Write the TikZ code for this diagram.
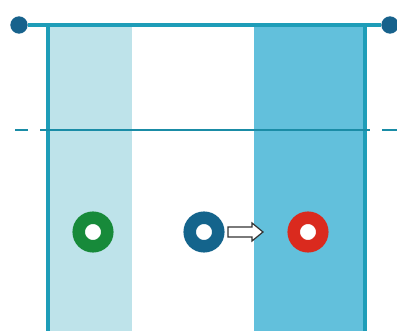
\documentclass[tikz,border=0pt]{standalone}
\definecolor{lineC}{HTML}{1E9DB8}
\definecolor{dashC}{HTML}{1A8CA6}
\definecolor{lightF}{HTML}{BEE3EA}
\definecolor{darkF}{HTML}{62C0DC}
\definecolor{dotC}{HTML}{17628C}
\definecolor{greenC}{HTML}{178A3A}
\definecolor{blueC}{HTML}{14648C}
\definecolor{redC}{HTML}{DA2A1E}
\begin{document}
\begin{tikzpicture}[x=0.75pt,y=-0.75pt,
  ring/.style={circle, draw=#1, fill=white, line width=9.4pt, minimum size=21.4pt, inner sep=0pt},
  enddot/.style={circle, fill=dotC, minimum size=13pt, inner sep=0pt},
  rail/.style={lineC, line width=2.4pt},
  level/.style={dashC, line width=1.6pt},
  hollowarrow/.style={draw=black!80, fill=white, line width=0.9pt, line join=miter}]
\useasboundingbox (0,0) rectangle (397,331);
\fill[white] (0,0) rectangle (397,331);
% columns
\fill[lightF] (50,27) rectangle (132,331);
\fill[darkF] (254,27) rectangle (364,331);
% vertical rails
\draw[rail] (48,25) -- (48,331);
\draw[rail] (365,25) -- (365,331);
% end dots and top line
\node[enddot] (ldot) at (19,25) {};
\node[enddot] (rdot) at (390,25) {};
\draw[rail] (ldot.east) -- (rdot.west);
% dashed level line
\draw[level] (15,130) -- (28,130);
\draw[level] (40,130) -- (370,130);
\draw[level] (382,130) -- (397,130);
% rings
\node[ring=greenC] (g) at (93,232) {};
\node[ring=blueC] (b) at (204,232) {};
\node[ring=redC] (r) at (308,232) {};
% hollow arrow from the blue ring towards the red ring
\coordinate (arr) at (228,232);
\draw[hollowarrow] (arr) ++(0,-5) -- ++(24,0) -- ++(0,-4) -- ++(11,9) -- ++(-11,9) -- ++(0,-4) -- ++(-24,0) -- cycle;
\end{tikzpicture}
\end{document}
